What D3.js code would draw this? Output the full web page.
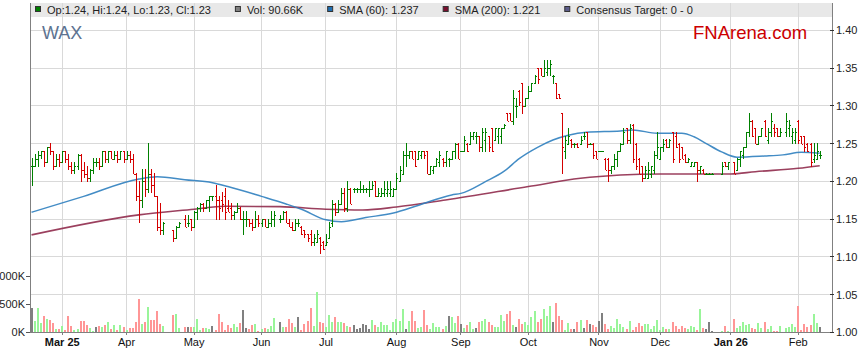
<!DOCTYPE html>
<html>
<head>
<meta charset="utf-8">
<script src="https://cdn.jsdelivr.net/npm/d3@7"></script>
<style>
    body { margin: 0; background: #fff; }
    svg { display: block; font-family: Arial, 'Liberation Sans', sans-serif; }
</style>
</head>
<body>
<svg id="chart" width="859" height="363"></svg>
<script>
// trading days start here, weekdays only, exchange holidays keep an empty slot
const startDay = '2025-02-17'
const holidays = ['2025-04-18', '2025-04-21', '2025-04-25', '2025-06-09', '2025-12-25', '2025-12-26', '2026-01-01', '2026-01-26']

const opens = [
    1.220, 1.220, 1.230, 1.235, 1.240, 1.225, 1.245, 1.240, 1.220, 1.230,
    1.225, 1.240, 1.230, 1.220, 1.215, 1.220, 1.235, 1.215, 1.210, 1.205,
    1.215, 1.225, 1.225, 1.220, 1.240, 1.230, 1.240, 1.230, 1.235, 1.230,
    1.240, 1.230, 1.235, 1.230, 1.210, 1.180, 1.175, 1.200, 1.190, 1.210,
    1.195, 1.180, 1.140, 1.135, 1.135, 1.125, 1.140, 1.150, 1.145, 1.150,
    1.140, 1.160, 1.165, 1.170, 1.165, 1.175, 1.180, 1.180, 1.175, 1.175,
    1.180, 1.165, 1.165, 1.155, 1.160, 1.165, 1.150, 1.150, 1.150, 1.145,
    1.140, 1.150, 1.145, 1.150, 1.140, 1.145, 1.150, 1.150, 1.150, 1.160,
    1.145, 1.140, 1.135, 1.145, 1.140, 1.135, 1.130, 1.130, 1.120, 1.120,
    1.125, 1.120, 1.115, 1.125, 1.145, 1.170, 1.160, 1.170, 1.185, 1.165,
    1.190, 1.190, 1.190, 1.190, 1.190, 1.190, 1.190, 1.190, 1.200, 1.180,
    1.180, 1.185, 1.185, 1.185, 1.180, 1.190, 1.200, 1.210, 1.235, 1.235,
    1.240, 1.240, 1.230, 1.235, 1.240, 1.240, 1.210, 1.215, 1.220, 1.225,
    1.230, 1.225, 1.230, 1.230, 1.240, 1.250, 1.240, 1.240, 1.250, 1.250,
    1.260, 1.260, 1.260, 1.245, 1.255, 1.260, 1.270, 1.255, 1.260, 1.260,
    1.270, 1.290, 1.290, 1.280, 1.300, 1.320, 1.330, 1.300, 1.310, 1.320,
    1.330, 1.350, 1.350, 1.340, 1.345, 1.350, 1.340, 1.330, 1.315, 1.290,
    1.240, 1.250, 1.255, 1.250, 1.250, 1.250, 1.260, 1.265, 1.250, 1.250,
    1.240, 1.240, 1.240, 1.230, 1.230, 1.215, 1.220, 1.230, 1.240, 1.250,
    1.270, 1.255, 1.275, 1.250, 1.230, 1.220, 1.205, 1.205, 1.210, 1.215,
    1.235, 1.230, 1.245, 1.255, 1.245, 1.265, 1.260, 1.250, 1.245, 1.235,
    1.225, 1.220, 1.220, 1.225, 1.215, 1.215, 1.210, 1.210, 1.210, 1.210,
    1.225, 1.220, 1.225, 1.215, 1.230, 1.235, 1.245, 1.265, 1.280, 1.270,
    1.250, 1.260, 1.280, 1.255, 1.265, 1.270, 1.270, 1.260, 1.265, 1.270,
    1.260, 1.255, 1.280, 1.260, 1.260, 1.250, 1.250, 1.230, 1.230, 1.235
]
const highs = [
    1.230, 1.235, 1.240, 1.240, 1.240, 1.245, 1.250, 1.240, 1.235, 1.235,
    1.240, 1.240, 1.235, 1.225, 1.225, 1.235, 1.235, 1.225, 1.220, 1.215,
    1.230, 1.230, 1.230, 1.240, 1.240, 1.240, 1.240, 1.240, 1.240, 1.240,
    1.240, 1.240, 1.240, 1.235, 1.210, 1.200, 1.215, 1.215, 1.250, 1.215,
    1.210, 1.180, 1.170, 1.145, 1.135, 1.140, 1.145, 1.155, 1.155, 1.150,
    1.160, 1.165, 1.170, 1.170, 1.175, 1.180, 1.180, 1.195, 1.180, 1.185,
    1.190, 1.175, 1.170, 1.160, 1.170, 1.165, 1.160, 1.160, 1.150, 1.150,
    1.160, 1.155, 1.150, 1.150, 1.150, 1.160, 1.160, 1.155, 1.160, 1.160,
    1.150, 1.145, 1.150, 1.150, 1.140, 1.135, 1.130, 1.135, 1.130, 1.135,
    1.125, 1.120, 1.130, 1.145, 1.175, 1.170, 1.175, 1.190, 1.190, 1.200,
    1.190, 1.190, 1.190, 1.200, 1.195, 1.190, 1.200, 1.200, 1.200, 1.190,
    1.190, 1.200, 1.200, 1.200, 1.190, 1.210, 1.220, 1.240, 1.250, 1.240,
    1.240, 1.240, 1.240, 1.240, 1.240, 1.240, 1.220, 1.220, 1.230, 1.240,
    1.230, 1.240, 1.230, 1.240, 1.250, 1.250, 1.240, 1.260, 1.250, 1.265,
    1.265, 1.265, 1.260, 1.270, 1.270, 1.260, 1.270, 1.270, 1.270, 1.270,
    1.275, 1.290, 1.290, 1.320, 1.310, 1.320, 1.330, 1.310, 1.325, 1.330,
    1.340, 1.350, 1.350, 1.360, 1.360, 1.360, 1.340, 1.330, 1.315, 1.290,
    1.260, 1.270, 1.255, 1.250, 1.250, 1.260, 1.265, 1.265, 1.250, 1.250,
    1.240, 1.240, 1.240, 1.230, 1.230, 1.220, 1.235, 1.240, 1.250, 1.270,
    1.270, 1.275, 1.275, 1.250, 1.230, 1.220, 1.220, 1.225, 1.220, 1.240,
    1.265, 1.245, 1.255, 1.255, 1.255, 1.265, 1.265, 1.250, 1.245, 1.235,
    1.230, 1.225, 1.225, 1.225, 1.220, 1.215, 1.210, 1.210, 1.210, 1.225,
    1.225, 1.225, 1.225, 1.230, 1.240, 1.245, 1.265, 1.290, 1.280, 1.270,
    1.260, 1.270, 1.280, 1.270, 1.290, 1.275, 1.270, 1.270, 1.290, 1.280,
    1.270, 1.270, 1.280, 1.260, 1.260, 1.250, 1.250, 1.250, 1.250, 1.240
]
const lows = [
    1.195, 1.220, 1.220, 1.230, 1.220, 1.225, 1.235, 1.215, 1.220, 1.220,
    1.225, 1.225, 1.215, 1.210, 1.210, 1.215, 1.200, 1.205, 1.200, 1.200,
    1.210, 1.220, 1.215, 1.220, 1.225, 1.225, 1.230, 1.230, 1.225, 1.230,
    1.225, 1.230, 1.225, 1.210, 1.175, 1.145, 1.165, 1.180, 1.185, 1.185,
    1.180, 1.135, 1.130, 1.130, 1.120, 1.125, 1.140, 1.140, 1.140, 1.135,
    1.140, 1.150, 1.160, 1.160, 1.165, 1.160, 1.175, 1.150, 1.150, 1.160,
    1.150, 1.160, 1.150, 1.150, 1.160, 1.150, 1.130, 1.140, 1.140, 1.135,
    1.140, 1.140, 1.140, 1.140, 1.140, 1.140, 1.140, 1.145, 1.150, 1.145,
    1.140, 1.135, 1.135, 1.140, 1.130, 1.125, 1.120, 1.115, 1.115, 1.120,
    1.105, 1.110, 1.115, 1.125, 1.140, 1.155, 1.160, 1.170, 1.160, 1.160,
    1.170, 1.185, 1.185, 1.185, 1.185, 1.185, 1.180, 1.190, 1.180, 1.180,
    1.180, 1.180, 1.180, 1.180, 1.180, 1.190, 1.200, 1.210, 1.220, 1.230,
    1.230, 1.220, 1.230, 1.230, 1.230, 1.210, 1.210, 1.210, 1.220, 1.220,
    1.220, 1.220, 1.220, 1.230, 1.230, 1.230, 1.240, 1.240, 1.240, 1.250,
    1.255, 1.250, 1.240, 1.240, 1.240, 1.240, 1.240, 1.255, 1.250, 1.250,
    1.270, 1.280, 1.280, 1.275, 1.285, 1.300, 1.290, 1.300, 1.310, 1.320,
    1.330, 1.330, 1.340, 1.340, 1.340, 1.340, 1.330, 1.310, 1.310, 1.210,
    1.230, 1.250, 1.245, 1.245, 1.245, 1.250, 1.255, 1.245, 1.250, 1.230,
    1.230, 1.240, 1.240, 1.215, 1.200, 1.210, 1.215, 1.220, 1.240, 1.250,
    1.250, 1.250, 1.225, 1.215, 1.210, 1.200, 1.205, 1.205, 1.205, 1.210,
    1.230, 1.230, 1.240, 1.245, 1.245, 1.225, 1.245, 1.225, 1.230, 1.225,
    1.225, 1.220, 1.220, 1.200, 1.210, 1.210, 1.210, 1.210, 1.210, 1.210,
    1.220, 1.215, 1.210, 1.215, 1.220, 1.230, 1.245, 1.260, 1.260, 1.250,
    1.250, 1.260, 1.260, 1.250, 1.260, 1.260, 1.260, 1.260, 1.260, 1.260,
    1.250, 1.250, 1.250, 1.250, 1.240, 1.240, 1.220, 1.225, 1.230, 1.230
]
const closes = [
    1.220, 1.230, 1.235, 1.240, 1.225, 1.245, 1.240, 1.220, 1.230, 1.225,
    1.240, 1.230, 1.220, 1.215, 1.220, 1.235, 1.215, 1.210, 1.205, 1.215,
    1.225, 1.225, 1.220, 1.240, 1.230, 1.240, 1.230, 1.235, 1.230, 1.240,
    1.230, 1.235, 1.230, 1.210, 1.180, 1.175, 1.200, 1.190, 1.210, 1.195,
    1.180, 1.140, 1.135, 1.145, 1.125, 1.140, 1.145, 1.140, 1.145, 1.140,
    1.160, 1.165, 1.170, 1.165, 1.175, 1.180, 1.180, 1.175, 1.165, 1.170,
    1.160, 1.160, 1.155, 1.160, 1.165, 1.150, 1.150, 1.150, 1.145, 1.140,
    1.150, 1.145, 1.150, 1.140, 1.145, 1.150, 1.155, 1.150, 1.160, 1.145,
    1.140, 1.135, 1.145, 1.145, 1.130, 1.130, 1.125, 1.120, 1.125, 1.130,
    1.115, 1.110, 1.120, 1.140, 1.170, 1.160, 1.170, 1.185, 1.165, 1.190,
    1.170, 1.190, 1.190, 1.190, 1.190, 1.190, 1.190, 1.195, 1.180, 1.185,
    1.185, 1.190, 1.190, 1.190, 1.190, 1.205, 1.215, 1.235, 1.235, 1.240,
    1.230, 1.220, 1.240, 1.240, 1.235, 1.210, 1.220, 1.220, 1.230, 1.235,
    1.225, 1.240, 1.230, 1.240, 1.250, 1.230, 1.240, 1.255, 1.240, 1.260,
    1.265, 1.260, 1.245, 1.265, 1.265, 1.245, 1.240, 1.270, 1.270, 1.270,
    1.275, 1.280, 1.280, 1.310, 1.300, 1.305, 1.300, 1.310, 1.320, 1.330,
    1.340, 1.335, 1.340, 1.350, 1.350, 1.355, 1.340, 1.310, 1.310, 1.245,
    1.255, 1.260, 1.250, 1.250, 1.245, 1.255, 1.260, 1.250, 1.250, 1.235,
    1.230, 1.240, 1.240, 1.215, 1.215, 1.220, 1.230, 1.240, 1.250, 1.265,
    1.255, 1.270, 1.230, 1.220, 1.210, 1.205, 1.215, 1.215, 1.220, 1.235,
    1.245, 1.245, 1.250, 1.245, 1.255, 1.230, 1.245, 1.230, 1.230, 1.225,
    1.230, 1.225, 1.225, 1.215, 1.220, 1.210, 1.210, 1.210, 1.210, 1.220,
    1.220, 1.225, 1.210, 1.230, 1.240, 1.245, 1.265, 1.280, 1.260, 1.250,
    1.260, 1.270, 1.260, 1.265, 1.280, 1.265, 1.260, 1.265, 1.280, 1.275,
    1.265, 1.265, 1.255, 1.250, 1.245, 1.240, 1.225, 1.235, 1.240, 1.235
]
// volume in thousands of shares
const volumes = [
    430, 200, 430, 160, 290, 235, 215, 160, 55, 55,
    110, 35, 290, 110, 35, 55, 200, 200, 125, 70,
    15, 90, 110, 90, 125, 180, 55, 125, 35, 125,
    90, 35, 70, 70, 180, 600, 145, 180, 450, 215,
    215, 380, 145, 110, 315, 325, 70, 90, 90, 90,
    90, 235, 35, 70, 70, 55, 110, 35, 325, 180,
    35, 125, 70, 145, 90, 165, 400, 70, 55, 125,
    145, 20, 55, 70, 55, 110, 255, 180, 90, 90,
    235, 165, 90, 270, 35, 145, 200, 435, 110, 720,
    180, 165, 90, 305, 180, 270, 180, 180, 165, 110,
    90, 125, 55, 70, 145, 125, 55, 215, 125, 90,
    180, 125, 125, 35, 180, 235, 200, 415, 55, 200,
    380, 200, 70, 90, 400, 125, 55, 160, 90, 90,
    55, 110, 290, 270, 160, 290, 145, 70, 125, 180,
    55, 70, 180, 200, 235, 180, 125, 90, 90, 305,
    200, 325, 380, 125, 90, 235, 145, 180, 125, 270,
    380, 180, 235, 415, 290, 470, 180, 525, 290, 215,
    35, 160, 55, 55, 180, 215, 70, 215, 145, 125,
    90, 200, 345, 145, 55, 110, 70, 235, 145, 90,
    55, 200, 35, 90, 160, 110, 145, 145, 55, 110,
    215, 35, 90, 55, 55, 180, 110, 55, 110, 70,
    55, 110, 90, 35, 415, 70, 55, 180, 20, 20,
    110, 20, 235, 70, 110, 180, 125, 145, 70, 55,
    160, 70, 180, 55, 110, 20, 20, 110, 70, 90,
    145, 90, 470, 35, 145, 90, 125, 325, 160, 90.66
]

// moving averages, as [weekday slot, value]
const sma60Slots = [0, 17, 35, 41, 50, 59, 64, 75, 83, 88, 96, 101, 109, 118, 126, 137, 140, 148, 154, 159, 165, 170, 175, 181, 192, 196, 204, 212, 216, 220, 225, 230, 239, 245, 251, 257]
const sma60 = [1.159, 1.180, 1.203, 1.206, 1.202, 1.198, 1.193, 1.180, 1.170, 1.163, 1.149, 1.1465, 1.152, 1.158, 1.168, 1.182, 1.184, 1.1995, 1.213, 1.230, 1.245, 1.2547, 1.261, 1.265, 1.2667, 1.268, 1.2636, 1.2636, 1.259, 1.250, 1.239, 1.232, 1.2335, 1.235, 1.2384, 1.237]
const sma200Slots = [0, 35, 53, 63, 81, 96, 108, 119, 135, 162, 179, 192, 205, 228, 236, 250, 257]
const sma200 = [1.129, 1.1555, 1.163, 1.167, 1.1664, 1.163, 1.162, 1.166, 1.1753, 1.193, 1.204, 1.2083, 1.2097, 1.2097, 1.2127, 1.2172, 1.2207]

const priceTicks = [1.00, 1.05, 1.10, 1.15, 1.20, 1.25, 1.30, 1.35, 1.40]
const volumeTicks = [0, 500, 1000]
const monthLabels = ['Mar 25', 'Apr', 'May', 'Jun', 'Jul', 'Aug', 'Sep', 'Oct', 'Nov', 'Dec', 'Jan 26', 'Feb']
const legendItems = [
    { color: '#008000', text: 'Op:1.24, Hi:1.24, Lo:1.23, Cl:1.23' },
    { color: '#808080', text: 'Vol: 90.66K' },
    { color: '#1f6fb2', text: 'SMA (60): 1.237' },
    { color: '#7a0f2e', text: 'SMA (200): 1.221' },
    { color: '#5c5c8a', text: 'Consensus Target: 0 - 0' }
]

// build weekday slots, put each trading value on the next non-holiday slot
let slots = []
let bars = []
let day = new Date(startDay + 'T00:00:00Z')
while (bars.length < closes.length) {
    let wd = day.getUTCDay()
    if (wd !== 0 && wd !== 6) {
        let iso = day.toISOString().slice(0, 10)
        let slot = slots.length
        slots.push(new Date(day))
        if (holidays.indexOf(iso) < 0) {
            let k = bars.length
            bars.push({ slot: slot, o: opens[k], h: highs[k], l: lows[k], c: closes[k], v: volumes[k] })
        }
    }
    day.setUTCDate(day.getUTCDate() + 1)
}

const plotLeft = 30
const plotRight = 832
const plotTop = 3
const plotBottom = 332.3

let svg = d3.select('#chart')

let x = d3.scaleLinear().domain([-0.5, 261]).range([plotLeft, plotRight])
let y = d3.scaleLinear().domain([1.00, 1.40]).range([plotBottom, 30.3])
let yVol = d3.scaleLinear().domain([0, 1000]).range([plotBottom, 276.3])

// legend band
svg.append('rect')
    .attr('x', plotLeft)
    .attr('y', plotTop)
    .attr('width', plotRight - plotLeft)
    .attr('height', 14)
    .attr('fill', '#e8e8e8')

// month starts
let monthStarts = []
for (let i = 1; i < slots.length; i++) {
    if (slots[i].getUTCMonth() !== slots[i - 1].getUTCMonth()) monthStarts.push(i)
}

let grid = svg.append('g').attr('id', 'grid')
    .attr('stroke', '#d9d9d9')
    .attr('stroke-width', 1)
    .attr('shape-rendering', 'crispEdges')
grid.selectAll('line.h')
    .data(priceTicks.slice(1))
    .enter()
    .append('line')
    .attr('x1', plotLeft)
    .attr('x2', plotRight)
    .attr('y1', d => y(d))
    .attr('y2', d => y(d))
grid.selectAll('line.v')
    .data(monthStarts)
    .enter()
    .append('line')
    .attr('x1', d => x(d))
    .attr('x2', d => x(d))
    .attr('y1', plotTop)
    .attr('y2', plotBottom)

// legend content
let legend = svg.append('g').attr('id', 'legend')
let lx = 35
legendItems.forEach(function (d) {
    legend.append('rect')
        .attr('x', lx + 0.5)
        .attr('y', 6.5)
        .attr('width', 5)
        .attr('height', 5)
        .attr('fill', d.color)
        .attr('stroke', '#333')
        .attr('stroke-width', 1)
    let t = legend.append('text')
        .text(d.text)
        .attr('x', lx + 12)
        .attr('y', 14)
        .attr('font-size', '11px')
        .attr('fill', '#222')
    lx += 12 + t.node().getComputedTextLength() + 24
})

svg.append('text')
    .text('WAX')
    .attr('x', 42)
    .attr('y', 38.5)
    .attr('font-size', '18px')
    .attr('fill', '#5d7391')

svg.append('text')
    .text('FNArena.com')
    .attr('x', 693)
    .attr('y', 38.5)
    .attr('font-size', '18.5px')
    .attr('fill', '#cc0000')

// volume bars
let volColor = function (d) {
    if (d.c > d.o) return '#99f599'
    if (d.c < d.o) return '#ff9696'
    return '#808080'
}
svg.append('g').attr('id', 'volume').selectAll('rect')
    .data(bars)
    .enter()
    .append('rect')
    .attr('x', d => Math.round(x(d.slot) - 1))
    .attr('y', d => yVol(d.v))
    .attr('width', 2)
    .attr('height', d => plotBottom - yVol(d.v))
    .attr('fill', volColor)
    .attr('shape-rendering', 'crispEdges')

// moving averages
let smaLine = d3.line()
    .x(d => x(d[0]))
    .y(d => y(d[1]))
    .curve(d3.curveMonotoneX)
svg.append('path')
    .attr('d', smaLine(d3.zip(sma200Slots, sma200)))
    .attr('fill', 'none')
    .attr('stroke', '#8a1e42')
    .attr('stroke-opacity', 0.85)
    .attr('stroke-width', 1.6)
svg.append('path')
    .attr('d', smaLine(d3.zip(sma60Slots, sma60)))
    .attr('fill', 'none')
    .attr('stroke', '#2f80bf')
    .attr('stroke-opacity', 0.9)
    .attr('stroke-width', 1.5)

// OHLC bars
let ohlc = svg.append('g').attr('id', 'ohlc')
    .attr('shape-rendering', 'crispEdges')
    .selectAll('g')
    .data(bars)
    .enter()
    .append('g')
    .attr('stroke', d => d.c < d.o ? '#d40000' : '#008000')
    .attr('stroke-width', 1)
ohlc.append('line')
    .attr('x1', d => Math.round(x(d.slot)) + 0.5)
    .attr('x2', d => Math.round(x(d.slot)) + 0.5)
    .attr('y1', d => y(d.h) - 0.5)
    .attr('y2', d => y(d.l) + 0.5)
ohlc.append('line')
    .attr('x1', d => Math.round(x(d.slot)) - 1)
    .attr('x2', d => Math.round(x(d.slot)) + 0.5)
    .attr('y1', d => Math.round(y(d.o)) + 0.5)
    .attr('y2', d => Math.round(y(d.o)) + 0.5)
ohlc.append('line')
    .attr('x1', d => Math.round(x(d.slot)) + 0.5)
    .attr('x2', d => Math.round(x(d.slot)) + 2)
    .attr('y1', d => Math.round(y(d.c)) + 0.5)
    .attr('y2', d => Math.round(y(d.c)) + 0.5)

// axes frame
let frame = svg.append('g').attr('stroke', '#808080').attr('stroke-width', 1).attr('shape-rendering', 'crispEdges')
frame.append('line').attr('x1', plotLeft + 0.5).attr('x2', plotLeft + 0.5).attr('y1', plotTop).attr('y2', plotBottom)
frame.append('line').attr('x1', plotRight + 0.5).attr('x2', plotRight + 0.5).attr('y1', plotTop).attr('y2', plotBottom)
frame.append('line').attr('x1', plotLeft).attr('x2', plotRight + 1).attr('y1', plotBottom).attr('y2', plotBottom)

// right price axis
let py = svg.append('g').attr('id', 'priceAxis')
py.selectAll('line')
    .data(priceTicks)
    .enter()
    .append('line')
    .attr('x1', plotRight - 2)
    .attr('x2', plotRight + 2)
    .attr('y1', d => y(d))
    .attr('y2', d => y(d))
    .attr('stroke', '#333')
    .attr('shape-rendering', 'crispEdges')
py.selectAll('text')
    .data(priceTicks)
    .enter()
    .append('text')
    .text(d => d.toFixed(2))
    .attr('x', plotRight + 4)
    .attr('y', d => y(d) + 4)
    .attr('font-size', '11px')
    .attr('fill', '#222')

// left volume axis
let vy = svg.append('g').attr('id', 'volumeAxis')
vy.selectAll('line')
    .data(volumeTicks)
    .enter()
    .append('line')
    .attr('x1', plotLeft - 4)
    .attr('x2', plotLeft)
    .attr('y1', d => yVol(d))
    .attr('y2', d => yVol(d))
    .attr('stroke', '#555')
    .attr('shape-rendering', 'crispEdges')
vy.selectAll('text')
    .data(volumeTicks)
    .enter()
    .append('text')
    .text(d => d + 'K')
    .attr('x', plotLeft - 5)
    .attr('y', d => yVol(d) + 4)
    .attr('font-size', '11px')
    .attr('fill', '#222')
    .style('text-anchor', 'end')

// bottom month axis
let mx = svg.append('g').attr('id', 'monthAxis')
mx.selectAll('line')
    .data(monthStarts)
    .enter()
    .append('line')
    .attr('x1', d => x(d))
    .attr('x2', d => x(d))
    .attr('y1', plotBottom)
    .attr('y2', plotBottom + 3)
    .attr('stroke', '#808080')
    .attr('shape-rendering', 'crispEdges')
mx.selectAll('text')
    .data(monthStarts)
    .enter()
    .append('text')
    .text((d, i) => monthLabels[i])
    .attr('x', d => x(d))
    .attr('y', 346)
    .attr('font-size', '11px')
    .attr('font-weight', (d, i) => monthLabels[i].indexOf(' ') > 0 ? 'bold' : 'normal')
    .attr('fill', '#111')
    .style('text-anchor', 'middle')
</script>
</body>
</html>
